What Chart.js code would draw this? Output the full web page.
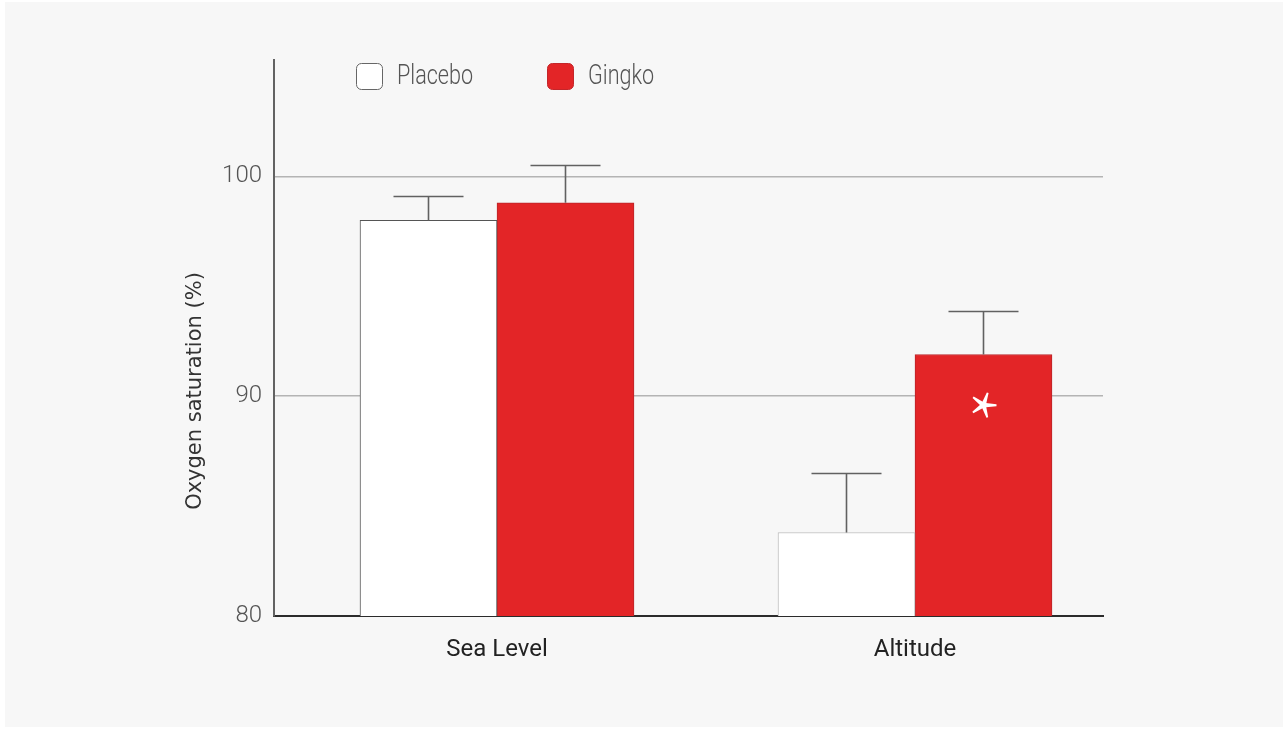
<!DOCTYPE html>
<html>
<head>
<meta charset="utf-8">
<script src="https://cdn.jsdelivr.net/npm/chart.js@4.4.1/dist/chart.umd.min.js"></script>
<style>
  html, body { margin: 0; padding: 0; background: #fff; }
  canvas { display: block; }
</style>
</head>
<body>
<canvas id="chart" width="1286" height="730"></canvas>
<script>
// Mean oxygen saturation (%) with upper error (SD) per condition
const categories = ['Sea Level', 'Altitude'];
const placebo = [98.0, 83.8];
const placeboErr = [1.1, 2.7];
const gingko = [98.8, 91.9];
const gingkoErr = [1.7, 2.0];
const yTicks = [80, 90, 100];
const yTitle = 'Oxygen saturation (%)';
// significance marker drawn inside the Gingko bar at Altitude
const gingkoSignificant = [false, true];
const markerValue = 89.6;

const RED = '#e32527';

// page panel background
const panelBackground = {
  id: 'panelBackground',
  beforeDraw(chart) {
    const ctx = chart.ctx;
    ctx.save();
    ctx.fillStyle = '#ffffff';
    ctx.fillRect(0, 0, chart.width, chart.height);
    ctx.fillStyle = '#f7f7f7';
    ctx.fillRect(5, 2, chart.width - 8, chart.height - 5);
    ctx.restore();
  }
};

// upper error bars with caps
const errorBars = {
  id: 'errorBars',
  afterDatasetsDraw(chart, args, opts) {
    const ctx = chart.ctx;
    const yScale = chart.scales.y;
    ctx.save();
    ctx.strokeStyle = opts.color;
    ctx.lineWidth = opts.width;
    chart.data.datasets.forEach((ds, di) => {
      const meta = chart.getDatasetMeta(di);
      meta.data.forEach((bar, i) => {
        const top = ds.data[i].y + ds.errors[i];
        const ey = Math.round(yScale.getPixelForValue(top)) + 0.5;
        const x = Math.round(bar.x) + 0.5;
        ctx.beginPath();
        ctx.moveTo(x, bar.y);
        ctx.lineTo(x, ey);
        ctx.moveTo(x - opts.cap / 2, ey);
        ctx.lineTo(x + opts.cap / 2, ey);
        ctx.stroke();
      });
    });
    ctx.restore();
  }
};

// five-armed asterisk marking a significant difference
function drawAsterisk(ctx, cx, cy, r, rot) {
  ctx.save();
  ctx.translate(cx, cy);
  ctx.rotate(rot);
  ctx.fillStyle = '#ffffff';
  for (let k = 0; k < 5; k++) {
    ctx.save();
    ctx.rotate(k * 2 * Math.PI / 5);
    ctx.beginPath();
    ctx.moveTo(-2.4, 0);
    ctx.lineTo(-0.9, -r);
    ctx.lineTo(0.9, -r);
    ctx.lineTo(2.4, 0);
    ctx.closePath();
    ctx.fill();
    ctx.restore();
  }
  ctx.beginPath();
  ctx.arc(0, 0, 3, 0, 2 * Math.PI);
  ctx.fill();
  ctx.restore();
}

const significance = {
  id: 'significance',
  afterDatasetsDraw(chart) {
    const meta = chart.getDatasetMeta(1);
    const y = chart.scales.y.getPixelForValue(markerValue);
    gingkoSignificant.forEach((flag, i) => {
      if (flag) drawAsterisk(chart.ctx, meta.data[i].x, y, 13, 19 * Math.PI / 180);
    });
  }
};

// rotated y-axis title
const axisTitle = {
  id: 'axisTitle',
  afterDraw(chart, args, opts) {
    const ctx = chart.ctx;
    ctx.save();
    ctx.translate(opts.x, opts.y);
    ctx.rotate(-Math.PI / 2);
    ctx.font = '21px "DejaVu Sans"';
    ctx.fillStyle = '#333333';
    ctx.textAlign = 'center';
    ctx.textBaseline = 'middle';
    ctx.fillText(yTitle, 0, 0);
    ctx.restore();
  }
};

// legend with rounded swatches
const swatchLegend = {
  id: 'swatchLegend',
  afterDraw(chart, args, opts) {
    const ctx = chart.ctx;
    chart.data.datasets.forEach((ds, i) => {
      const bx = opts.items[i];
      const by = opts.top;
      const s = opts.size;
      ctx.save();
      ctx.beginPath();
      ctx.roundRect(bx + 0.5, by + 0.5, s, s, 5);
      ctx.fillStyle = ds.legendFill;
      ctx.fill();
      ctx.lineWidth = 1;
      ctx.strokeStyle = ds.legendStroke;
      ctx.stroke();
      ctx.translate(bx + s + 15, by + s / 2 + 1);
      ctx.scale(0.8, 1);
      ctx.font = '300 27px Roboto';
      ctx.fillStyle = '#555555';
      ctx.textBaseline = 'middle';
      ctx.fillText(ds.label, 0, 0);
      ctx.restore();
    });
  }
};

new Chart(document.getElementById('chart'), {
  type: 'bar',
  data: {
    datasets: [
      {
        label: 'Placebo',
        data: categories.map((c, i) => ({ x: i, y: placebo[i] })),
        errors: placeboErr,
        backgroundColor: '#ffffff',
        borderColor: ['#555555', '#bdbdbd'],
        borderWidth: 1,
        legendFill: '#ffffff',
        legendStroke: '#666666'
      },
      {
        label: 'Gingko',
        data: categories.map((c, i) => ({ x: i, y: gingko[i] })),
        errors: gingkoErr,
        backgroundColor: RED,
        borderColor: '#b9262a',
        borderWidth: 1,
        legendFill: RED,
        legendStroke: '#c4262a'
      }
    ]
  },
  options: {
    responsive: false,
    animation: false,
    events: [],
    barThickness: 137,
    layout: { padding: { top: 60, right: 183, bottom: 0, left: 0 } },
    scales: {
      x: {
        type: 'linear',
        offset: false,
        min: -0.5335,
        max: 1.4498,
        afterBuildTicks(scale) { scale.ticks = categories.map((c, i) => ({ value: i })); },
        afterFit(scale) { scale.height = 114; },
        grid: { display: true, drawOnChartArea: false, drawTicks: false },
        border: { display: true, color: '#2b2b2b', width: 2 },
        ticks: {
          padding: 20,
          color: '#222222',
          font: { family: 'Roboto', size: 24, weight: 400 },
          callback: (v) => categories[v] ?? ''
        }
      },
      y: {
        min: 80,
        max: 105.3,
        afterBuildTicks(scale) { scale.ticks = yTicks.map(v => ({ value: v })); },
        afterFit(scale) { scale.width = 274; },
        grid: {
          drawTicks: false,
          lineWidth: 1.5,
          color: (ctx) => (ctx.tick && ctx.tick.value === yTicks[0]) ? 'rgba(0,0,0,0)' : '#b4b4b4'
        },
        border: { display: true, color: '#626262', width: 2 },
        ticks: {
          padding: 12,
          color: '#555555',
          font: { family: 'Roboto', size: 24, weight: 300 }
        }
      }
    },
    plugins: {
      legend: { display: false },
      tooltip: { enabled: false },
      errorBars: { color: '#616161', width: 1.6, cap: 70 },
      axisTitle: { x: 195.5, y: 391 },
      swatchLegend: { items: [356, 547], top: 63, size: 26 }
    }
  },
  plugins: [panelBackground, errorBars, significance, axisTitle, swatchLegend]
});
</script>
</body>
</html>
